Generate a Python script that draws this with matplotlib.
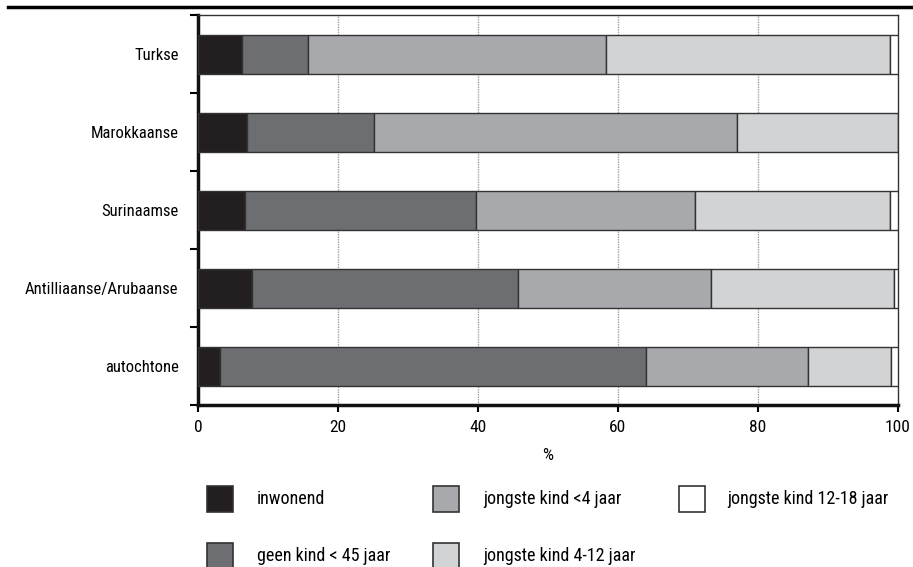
import numpy as np
import matplotlib
matplotlib.use("Agg")
import matplotlib.pyplot as plt
from matplotlib.patches import Rectangle

plt.rcParams['font.family'] = ['Liberation Sans Narrow', 'Roboto Condensed', 'Liberation Sans', 'DejaVu Sans']

# data (percentages)
groups = ["Turkse", "Marokkaanse", "Surinaamse", "Antilliaanse/Arubaanse", "autochtone"]
inwonend = [6.3, 7.0, 6.7, 7.7, 3.2]
geen_kind = [9.4, 18.2, 33.0, 38.1, 60.9]
kind_0_4 = [42.6, 51.9, 31.4, 27.5, 23.1]
kind_4_12 = [40.6, 22.9, 27.8, 26.2, 11.8]
kind_12_18 = [1.1, 0.0, 1.1, 0.5, 1.0]

labels = ["inwonend", "geen kind < 45 jaar", "jongste kind <4 jaar",
          "jongste kind 4-12 jaar", "jongste kind 12-18 jaar"]
colors = ["#231f20", "#6d6e71", "#a7a9ac", "#d1d3d4", "#ffffff"]
xticks = [0, 20, 40, 60, 80, 100]

fs = 12

fig = plt.figure(figsize=(9.13, 5.67), dpi=100)
W, H = 913.0, 567.0
ax = fig.add_axes([198 / W, 1 - 405 / H, (897.5 - 198) / W, (405 - 15) / H])

series = [inwonend, geen_kind, kind_0_4, kind_4_12, kind_12_18]
y = np.arange(len(groups))
left = np.zeros(len(groups))
for vals, col in zip(series, colors):
    ax.barh(y, vals, left=left, height=0.5, color=col, edgecolor="#333333",
            linewidth=1.0, zorder=3)
    left += np.array(vals)

ax.set_xlim(0, 100)
ax.set_ylim(len(groups) - 0.5, -0.5)

# grid only shows between the bars
for xv in xticks[1:-1]:
    ax.axvline(xv, color="#a0a0a0", linestyle=(0, (1, 0.8)), linewidth=1.0, zorder=1)

ax.set_xticks(xticks)
ax.set_xticklabels([str(v) for v in xticks], fontsize=fs + 0.5)
ax.set_yticks(np.arange(-0.5, len(groups), 1.0))
ax.set_yticklabels([])
ax.set_yticks(y, minor=True)
ax.set_yticklabels(groups, minor=True, fontsize=fs)
ax.tick_params(axis="y", which="minor", length=0, pad=14)
ax.tick_params(axis="y", which="major", length=6, width=1.5, direction="out")
ax.tick_params(axis="x", length=5, width=1.5, direction="out", pad=6)
ax.set_xlabel("%", fontsize=fs + 0.5, labelpad=9)

for s in ["left", "bottom"]:
    ax.spines[s].set_linewidth(2.5)
    ax.spines[s].set_color("#111111")
for s in ["top", "right"]:
    ax.spines[s].set_linewidth(1.0)
    ax.spines[s].set_color("#333333")

# rule under the (cropped) title
fig.add_artist(plt.Line2D([8 / W, 1.0], [1 - 7 / H, 1 - 7 / H], color="black", linewidth=2.5))

# legend, two rows of three columns
sq = 26
cols_x = [(207, 257), (433, 483), (679, 727)]
rows_y = [499, 556]
slots = [(0, 0), (0, 1), (1, 0), (1, 1), (2, 0)]
for (ci, ri), lab, col in zip(slots, labels, colors):
    bx, tx = cols_x[ci]
    cy = rows_y[ri]
    fig.add_artist(Rectangle((bx / W, 1 - (cy + sq / 2) / H), sq / W, sq / H,
                             transform=fig.transFigure, facecolor=col,
                             edgecolor="#333333", linewidth=1.2))
    fig.text(tx / W, 1 - cy / H, lab, fontsize=13, va="center", ha="left")

fig.savefig("out.png", dpi=100)
